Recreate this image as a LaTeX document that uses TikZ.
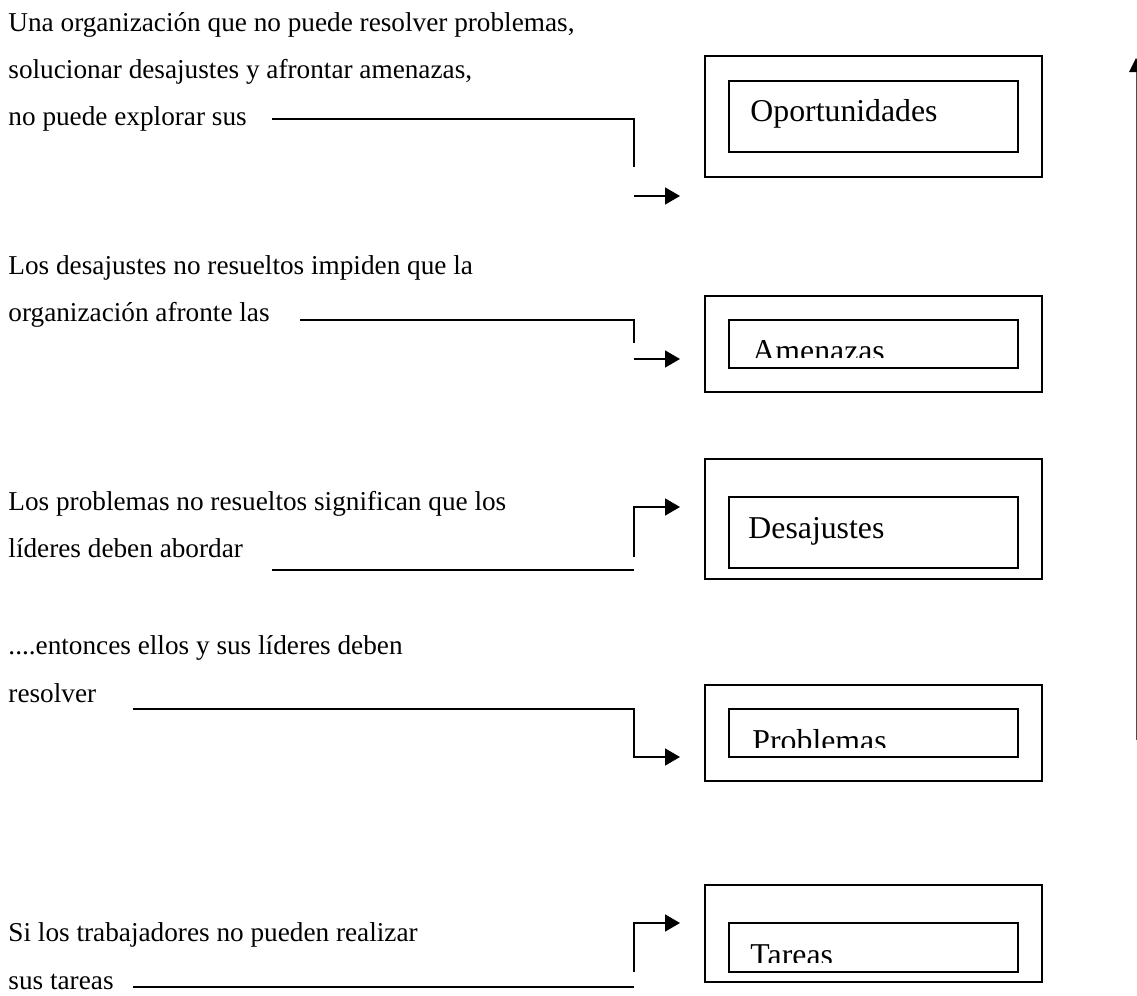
\documentclass[tikz,border=0pt]{standalone}
\usepackage{fontspec}
\setmainfont{Liberation Serif}
\usetikzlibrary{arrows.meta}

\begin{document}
\begin{tikzpicture}[
  x=0.4405pt, y=-0.4405pt,
  txt/.style={anchor=base west,inner sep=0pt,align=left,
              font=\fontsize{12}{20.9}\selectfont},
  lbl/.style={anchor=base west,inner sep=0pt,font=\fontsize{14}{16}\selectfont},
  outerbox/.style={draw,line width=0.6pt,minimum width=148.45pt,inner sep=0pt},
  innerbox/.style={draw,line width=0.6pt,minimum width=127.3pt,inner sep=0pt},
  ln/.style={line width=0.6pt},
  arr/.style={line width=0.6pt,-{Triangle[length=6.6pt,width=7.5pt]}}
]
\useasboundingbox (0,0) rectangle (1137,996);

% texts on the left (placed at the baseline of their last line)
\node[txt] (txtOpo) at (8,126) {Una organización que no puede resolver problemas,\\
  solucionar desajustes y afrontar amenazas,\\no puede explorar sus};
\node[txt] (txtAme) at (8,322) {Los desajustes no resueltos impiden que la\\
  organización afronte las};
\node[txt] (txtDes) at (8,558) {Los problemas no resueltos significan que los\\
  líderes deben abordar};
\node[txt] (txtPro) at (8,702) {....entonces ellos y sus líderes deben\\resolver};
\node[txt] (txtTar) at (8,989) {Si los trabajadores no pueden realizar\\sus tareas};

% boxes
\node[outerbox,minimum height=53.3pt] (opoOut) at (873.5,116.5) {};
\node[innerbox,minimum height=31.3pt] (opoIn) at (873.5,116.5) {};
\node[lbl] (opo) at (750,122) {Oportunidades};

\node[outerbox,minimum height=42.3pt] (ameOut) at (873.5,344) {};
\node[innerbox,minimum height=21.1pt] (ameIn) at (873.5,344) {};
\begin{scope}
  \clip (729,320) rectangle (1018,358);
  \node[lbl] (ame) at (752,362) {Amenazas};
\end{scope}

\node[outerbox,minimum height=52.9pt] (desOut) at (873.5,519) {};
\node[innerbox,minimum height=31.3pt] (desIn) at (873.5,532.5) {};
\node[lbl] (des) at (748,538) {Desajustes};

\node[outerbox,minimum height=42.3pt] (proOut) at (873.5,733) {};
\node[innerbox,minimum height=21.1pt] (proIn) at (873.5,733) {};
\begin{scope}
  \clip (729,709) rectangle (1018,747);
  \node[lbl] (pro) at (752,751) {Problemas};
\end{scope}

\node[outerbox,minimum height=42.7pt] (tarOut) at (873.5,933.5) {};
\node[innerbox,minimum height=21.6pt] (tarIn) at (873.5,947.5) {};
\begin{scope}
  \clip (729,923) rectangle (1018,962);
  \node[lbl] (tar) at (750,965) {Tareas};
\end{scope}

% connectors
\coordinate (o1) at (272,119); \coordinate (o2) at (634,119);
\coordinate (o3) at (634,167); \coordinate (o4) at (634,196);
\coordinate (o5) at (680,196);
\draw[ln] (o1) -- (o2) -- (o3);
\draw[arr] (o4) -- (o5);

\coordinate (a1) at (300,320); \coordinate (a2) at (634,320);
\coordinate (a3) at (634,343); \coordinate (a4) at (634,359);
\coordinate (a5) at (680,359);
\draw[ln] (a1) -- (a2) -- (a3);
\draw[arr] (a4) -- (a5);

\coordinate (d1) at (272,570); \coordinate (d2) at (634,570);
\coordinate (d3) at (634,557); \coordinate (d4) at (634,507);
\coordinate (d5) at (680,507);
\draw[ln] (d1) -- (d2);
\draw[arr] (d3) -- (d4) -- (d5);

\coordinate (p1) at (133,709); \coordinate (p2) at (634,709);
\coordinate (p3) at (634,757); \coordinate (p4) at (680,757);
\draw[arr] (p1) -- (p2) -- (p3) -- (p4);

\coordinate (t1) at (133,987); \coordinate (t2) at (634,987);
\coordinate (t3) at (634,972); \coordinate (t4) at (634,923);
\coordinate (t5) at (680,923);
\draw[ln] (t1) -- (t2);
\draw[arr] (t3) -- (t4) -- (t5);

% long arrow on the right
\coordinate (up0) at (1136,740); \coordinate (up1) at (1136,58);
\draw[line width=0.45pt,black!70,-{Triangle[length=6.2pt,width=6pt,color=black]}]
  (up0) -- (up1);
\end{tikzpicture}
\end{document}
